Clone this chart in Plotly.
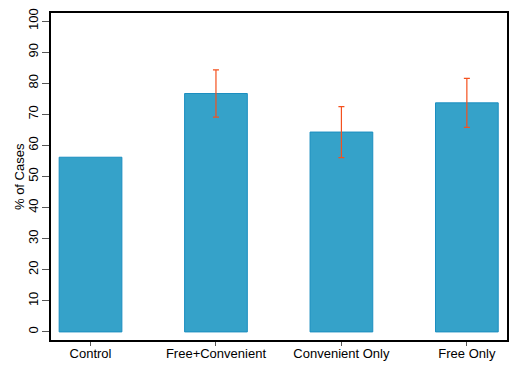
import plotly.graph_objects as go

categories = ["Control", "Free+Convenient", "Convenient Only", "Free Only"]
values = [56.2, 76.7, 64.3, 73.7]
errors = [None, 7.6, 8.2, 7.9]
y_ticks = list(range(0, 101, 10))

idx = list(range(len(categories)))
err_idx = [i for i in idx if errors[i] is not None]

fig = go.Figure()
fig.add_trace(go.Bar(
    x=idx,
    y=values,
    width=0.5,
    marker=dict(color="#35A2C9", line=dict(color="#1B8EC0", width=1)),
))
fig.add_trace(go.Scatter(
    x=err_idx,
    y=[values[i] for i in err_idx],
    mode="markers",
    marker=dict(size=1, color="rgba(0,0,0,0)"),
    error_y=dict(type="data", array=[errors[i] for i in err_idx], visible=True,
                 color="#F4511E", thickness=1.2, width=3),
    hoverinfo="skip",
))

fig.update_layout(
    template="none",
    width=512, height=370,
    margin=dict(l=43, r=13, t=5, b=38),
    plot_bgcolor="white", paper_bgcolor="white",
    showlegend=False,
    font=dict(family="Liberation Sans, Arial, sans-serif", size=13, color="black"),
    annotations=[dict(
        text="% of Cases", textangle=-90, showarrow=False,
        xref="paper", yref="paper", x=-0.069, y=0.5,
        xanchor="center", yanchor="middle", font=dict(size=13),
    )],
)
fig.update_xaxes(
    automargin=False,
    range=[-0.315, 3.32],
    tickmode="array", tickvals=idx, ticktext=categories,
    ticks="outside", ticklen=4, tickcolor="#555", showgrid=False, zeroline=False,
    showline=True, linecolor="black", linewidth=1.5, mirror=True,
    tickfont=dict(size=13), ticklabelstandoff=-3,
)
fig.update_yaxes(
    automargin=False,
    range=[-2.6, 102.6],
    tickmode="array", tickvals=y_ticks, ticktext=[str(t) for t in y_ticks],
    tickangle=-90,
    ticks="outside", ticklen=7, tickcolor="#555", showgrid=False, zeroline=False,
    showline=True, linecolor="black", linewidth=1.5, mirror=True,
    tickfont=dict(size=13), ticklabelstandoff=-1,
)

fig.write_html("out.html")
